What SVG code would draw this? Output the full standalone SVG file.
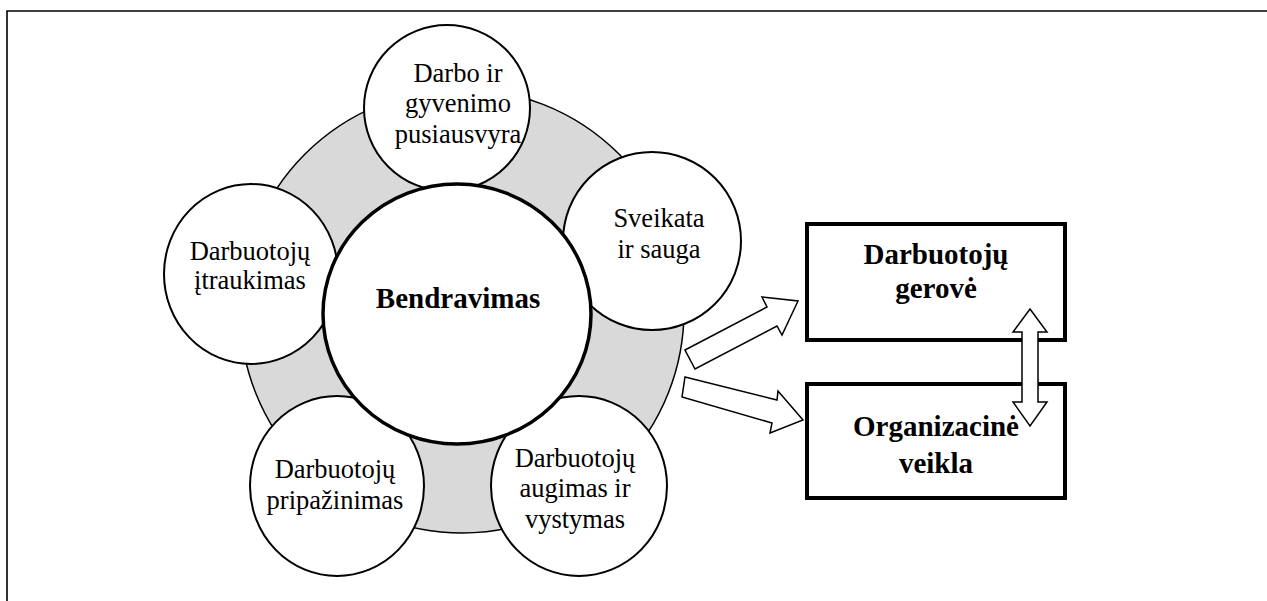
<svg xmlns="http://www.w3.org/2000/svg" width="1267" height="601" viewBox="0 0 1267 601">
<style>
.t{font-family:"Liberation Serif","Times New Roman",serif;font-size:26.5px;fill:#000;text-anchor:middle}
.b{font-family:"Liberation Serif","Times New Roman",serif;font-size:29px;font-weight:bold;fill:#000;text-anchor:middle}
.c{fill:#fff;stroke:#000;stroke-width:2}
.box{fill:#fff;stroke:#000;stroke-width:4}
.arr{fill:#fff;stroke:#000;stroke-width:1.5;stroke-linejoin:miter}
</style>
<rect width="1267" height="601" fill="#fff"/>
<g id="frame" fill="none" stroke="#000" stroke-width="1.6">
<path d="M7 601 V11 H1267"/>
</g>
<g id="ring">
<circle cx="462" cy="311" r="222" fill="#d9d9d9" stroke="#000" stroke-width="1.5"/>
</g>
<g id="node-balance">
<ellipse class="c" cx="447" cy="108" rx="83" ry="83"/>
<text class="t" x="458" y="82">Darbo ir</text>
<text class="t" x="458" y="112">gyvenimo</text>
<text class="t" x="458" y="143">pusiausvyra</text>
</g>
<g id="node-health">
<ellipse class="c" cx="652" cy="241" rx="89" ry="89"/>
<text class="t" x="659" y="227">Sveikata</text>
<text class="t" x="659" y="258">ir sauga</text>
</g>
<g id="node-involvement">
<ellipse class="c" cx="251" cy="274" rx="87" ry="90"/>
<text class="t" x="250" y="260">Darbuotojų</text>
<text class="t" x="250" y="289">įtraukimas</text>
</g>
<g id="node-recognition">
<ellipse class="c" cx="337" cy="486" rx="87" ry="90"/>
<text class="t" x="335" y="478">Darbuotojų</text>
<text class="t" x="335" y="509">pripažinimas</text>
</g>
<g id="node-growth">
<ellipse class="c" cx="579" cy="486" rx="88" ry="90"/>
<text class="t" x="575" y="467">Darbuotojų</text>
<text class="t" x="575" y="497">augimas ir</text>
<text class="t" x="575" y="528">vystymas</text>
</g>
<g id="node-communication">
<ellipse cx="457" cy="314" rx="134" ry="130" fill="#fff" stroke="#000" stroke-width="3.5"/>
<text class="b" x="458" y="308">Bendravimas</text>
</g>
<g id="node-wellbeing">
<rect class="box" x="807" y="224" width="258" height="116"/>
<text class="b" x="936" y="264">Darbuotojų</text>
<text class="b" x="936" y="298">gerovė</text>
</g>
<g id="node-performance">
<rect class="box" x="807" y="384" width="258" height="114"/>
<text class="b" x="936" y="436">Organizacinė</text>
<text class="b" x="936" y="473">veikla</text>
</g>
<g id="connectors">
<polygon class="arr" points="685,350 767,307 762,297 798,301 782,335 777,326 695,369"/>
<polygon class="arr" points="685,377 777,400 778,391 803,420 770,433 772,423 682,397"/>
<polygon class="arr" points="1030,309 1047,332 1038,332 1038,402 1047,402 1030,426 1013,402 1022,402 1022,332 1013,332"/>
</g>
</svg>
